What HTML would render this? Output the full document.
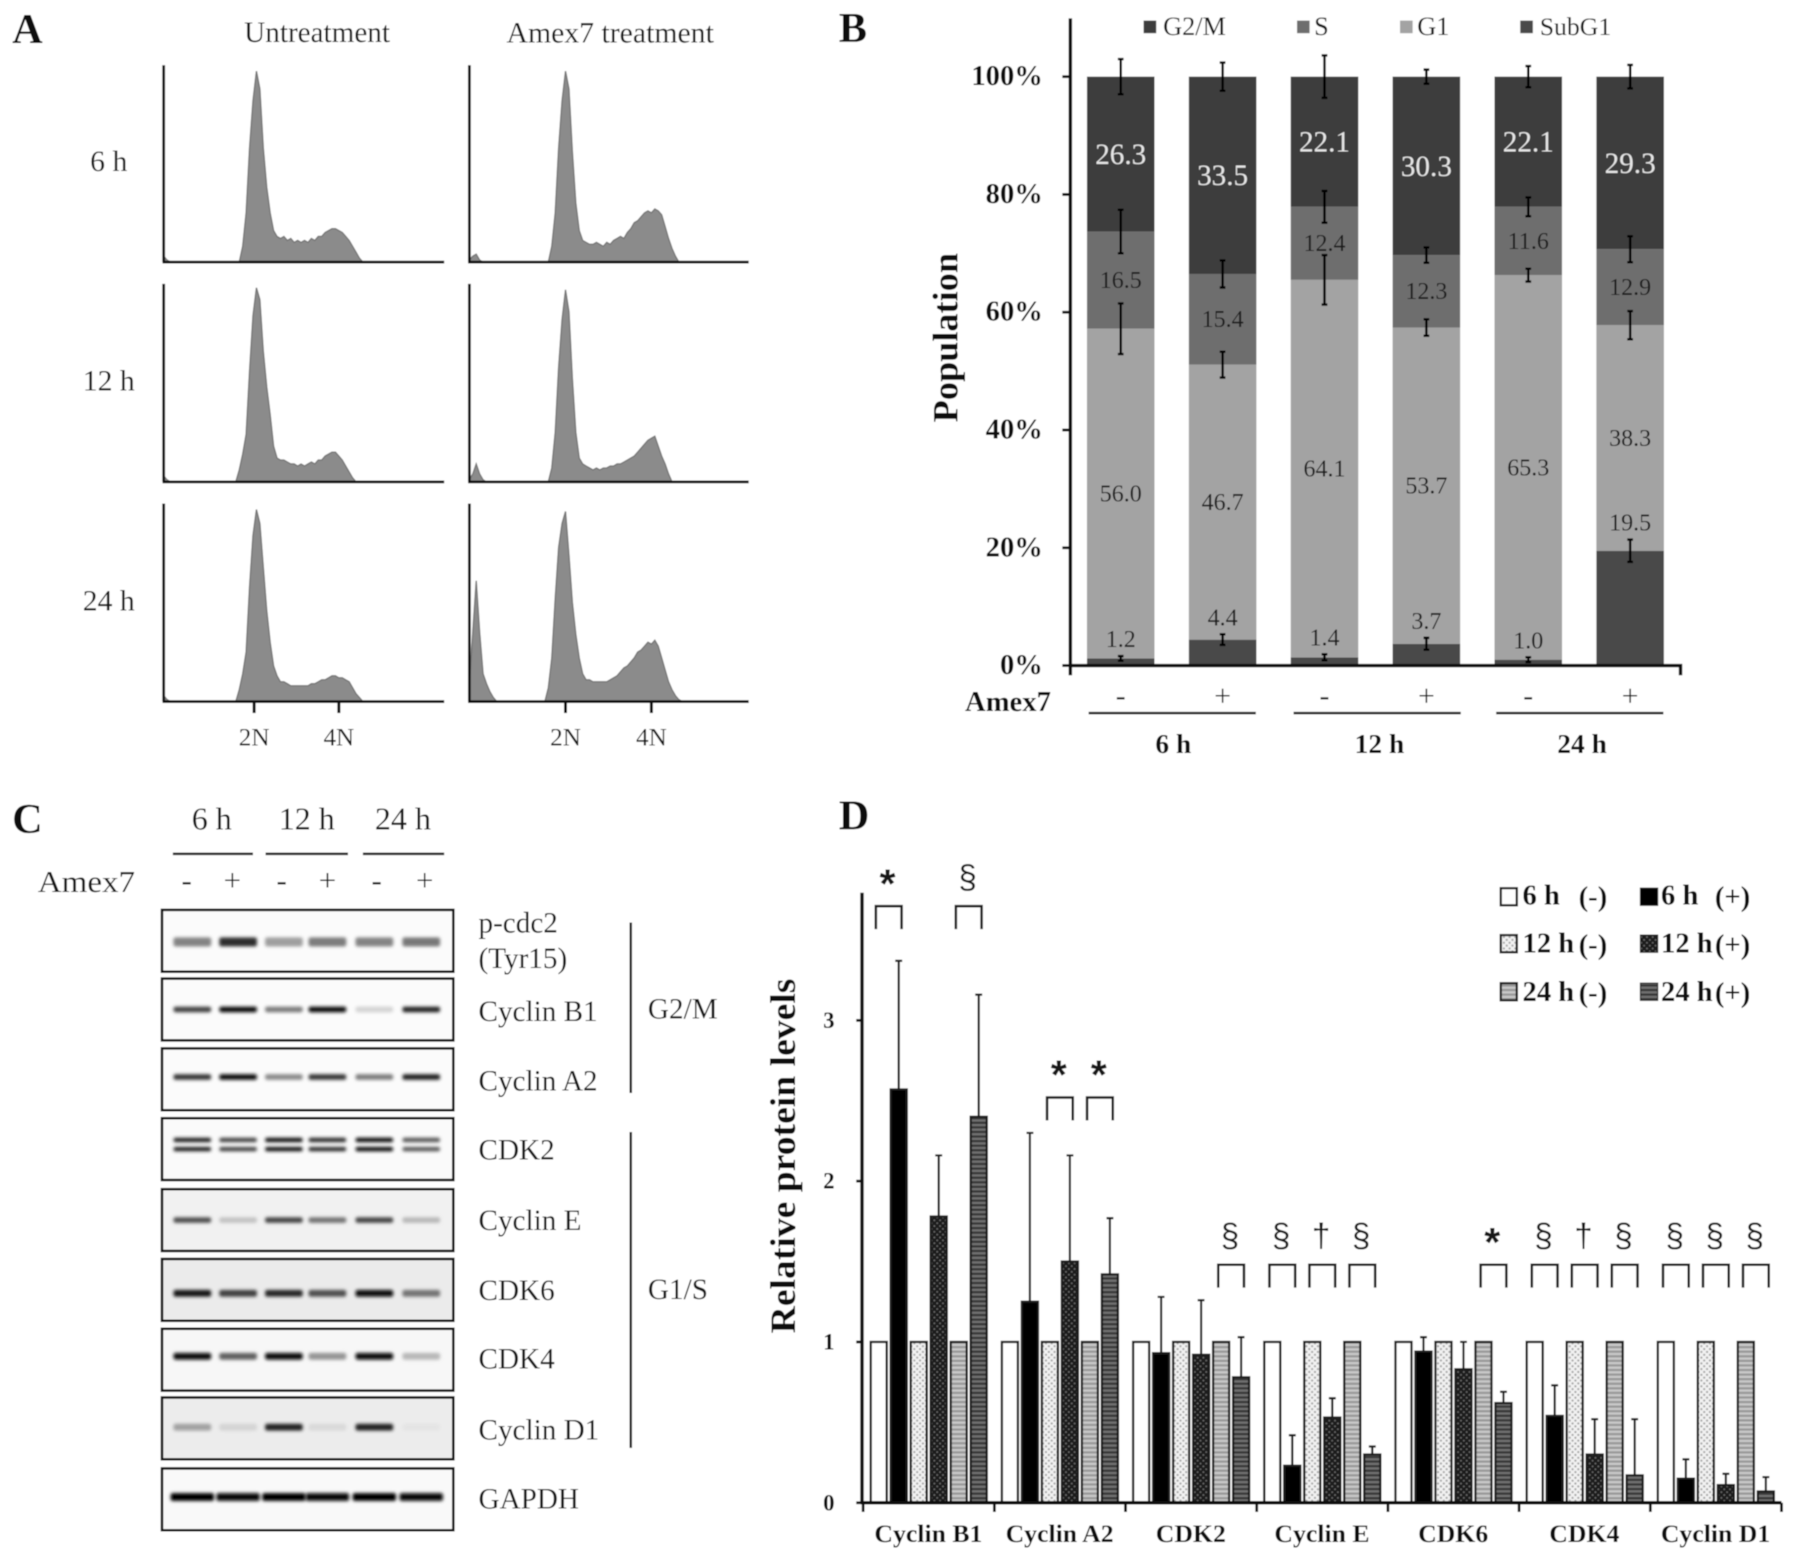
<!DOCTYPE html>
<html lang="en">
<head>
<meta charset="utf-8">
<title>Amex7 cell cycle figure</title>
<style>
html,body{margin:0;padding:0;background:#fff;width:1795px;height:1560px;overflow:hidden}
svg{display:block}
text{font-family:"Liberation Serif",serif;dominant-baseline:central;fill:#141414}
.b{font-weight:700;fill:#0a0a0a}
.m{text-anchor:middle}
.e{text-anchor:end}
.letter{font-weight:700;font-size:37px;fill:#0a0a0a;text-anchor:middle}
</style>
</head>
<body>
<svg id="fig" xmlns="http://www.w3.org/2000/svg" width="1795" height="1560" viewBox="0 0 1568 1363" preserveAspectRatio="none">
<defs>
<filter id="soft" x="-20%" y="-60%" width="140%" height="220%"><feGaussianBlur stdDeviation="1.3"/></filter>
<filter id="softLite" x="-5%" y="-5%" width="110%" height="110%"><feGaussianBlur stdDeviation="0.45"/></filter>
<pattern id="p12minus" width="5" height="5" patternUnits="userSpaceOnUse"><rect width="5" height="5" fill="#f2f2f2"/><circle cx="1.2" cy="1.2" r="1" fill="#a8a8a8"/><circle cx="3.7" cy="3.7" r="1" fill="#a8a8a8"/></pattern>
<pattern id="p12plus" width="5" height="5" patternUnits="userSpaceOnUse"><rect width="5" height="5" fill="#1c1c1c"/><circle cx="1.2" cy="1.2" r=".8" fill="#707070"/><circle cx="3.7" cy="3.7" r=".8" fill="#707070"/></pattern>
<pattern id="p24minus" width="4" height="4" patternUnits="userSpaceOnUse"><rect width="4" height="4" fill="#c8c8c8"/><rect width="4" height="2" fill="#9a9a9a"/></pattern>
<pattern id="p24plus" width="4" height="4" patternUnits="userSpaceOnUse"><rect width="4" height="4" fill="#707070"/><rect width="4" height="2" fill="#383838"/></pattern>
</defs>

<g id="root" filter="url(#softLite)">
<rect x="0" y="0" width="1568" height="1363" fill="#fff"/>

<!-- Panel A -->
<g id="panelA">
<text x="24" y="26" class="letter">A</text>
<text x="277" y="29" class="m" font-size="25.5">Untreatment</text>
<text x="533" y="29" class="m" font-size="26">Amex7 treatment</text>
<text x="95" y="141" class="m" font-size="26">6 h</text>
<text x="95" y="333" class="m" font-size="26">12 h</text>
<text x="95" y="525" class="m" font-size="26">24 h</text>
<text x="222" y="645" class="m" font-size="22">2N</text>
<text x="296" y="645" class="m" font-size="22">4N</text>
<text x="494" y="645" class="m" font-size="22">2N</text>
<text x="569" y="645" class="m" font-size="22">4N</text>
<line x1="222" y1="613" x2="222" y2="623" stroke="#111" stroke-width="2.6"/>
<line x1="296" y1="613" x2="296" y2="623" stroke="#111" stroke-width="2.6"/>
<line x1="494" y1="613" x2="494" y2="623" stroke="#111" stroke-width="2.6"/>
<line x1="569" y1="613" x2="569" y2="623" stroke="#111" stroke-width="2.6"/>
</g>

<!-- Panel B -->
<g id="panelB">
<text x="745" y="25" class="letter">B</text>
<text transform="translate(826,295) rotate(-90)" class="b m" font-size="31" textLength="148" lengthAdjust="spacingAndGlyphs">Population</text>
<text x="843" y="614" class="b" font-size="25" textLength="75" lengthAdjust="spacingAndGlyphs">Amex7</text>
<line x1="951" y1="623" x2="1097" y2="623" stroke="#111" stroke-width="2"/>
<line x1="1130" y1="623" x2="1276" y2="623" stroke="#111" stroke-width="2"/>
<line x1="1307" y1="623" x2="1453" y2="623" stroke="#111" stroke-width="2"/>
<text x="1025" y="650" class="b m" font-size="24">6 h</text>
<text x="1205" y="650" class="b m" font-size="24">12 h</text>
<text x="1382" y="650" class="b m" font-size="24">24 h</text>
<rect x="999" y="18" width="11" height="11" fill="#3c3c3c"/>
<text x="1016" y="23" font-size="23">G2/M</text>
<rect x="1133" y="18" width="11" height="11" fill="#6e6e6e"/>
<text x="1148" y="23" font-size="23">S</text>
<rect x="1223" y="18" width="11" height="11" fill="#a3a3a3"/>
<text x="1238" y="23" font-size="23">G1</text>
<rect x="1328" y="18" width="11" height="11" fill="#4a4a4a"/>
<text x="1345" y="23" font-size="22.5">SubG1</text>
</g>

<!-- Panel C -->
<g id="panelC">
<text x="24" y="716" class="letter">C</text>
<text x="185" y="715" class="m" font-size="28">6 h</text>
<text x="268" y="715" class="m" font-size="28">12 h</text>
<text x="352" y="715" class="m" font-size="28">24 h</text>
<line x1="151" y1="746" x2="221" y2="746" stroke="#222" stroke-width="2.2"/>
<line x1="232" y1="746" x2="304" y2="746" stroke="#222" stroke-width="2.2"/>
<line x1="317" y1="746" x2="388" y2="746" stroke="#222" stroke-width="2.2"/>
<text x="33" y="770" font-size="27" textLength="85" lengthAdjust="spacingAndGlyphs">Amex7</text>
<text x="418" y="807" font-size="25.5">p-cdc2</text>
<text x="418" y="838" font-size="25.5">(Tyr15)</text>
<text x="418" y="884" font-size="25.5">Cyclin B1</text>
<text x="418" y="945" font-size="25.5">Cyclin A2</text>
<text x="418" y="1005" font-size="25.5">CDK2</text>
<text x="418" y="1067" font-size="25.5">Cyclin E</text>
<text x="418" y="1128" font-size="25.5">CDK6</text>
<text x="418" y="1188" font-size="25.5">CDK4</text>
<text x="418" y="1250" font-size="25.5">Cyclin D1</text>
<text x="418" y="1310" font-size="25.5">GAPDH</text>
<line x1="551" y1="806" x2="551" y2="955" stroke="#222" stroke-width="2.2"/>
<line x1="551" y1="989" x2="551" y2="1265" stroke="#222" stroke-width="2.2"/>
<text x="566" y="882" font-size="25.5">G2/M</text>
<text x="566" y="1127" font-size="25.5">G1/S</text>
</g>

<!-- Panel D -->
<g id="panelD">
<text x="746" y="713" class="letter">D</text>
<text transform="translate(684,1010) rotate(-90)" class="b m" font-size="31" textLength="310" lengthAdjust="spacingAndGlyphs">Relative protein levels</text>
<rect x="1311" y="776" width="14" height="15" fill="#fff" stroke="#222" stroke-width="2"/>
<text x="1330" y="783" class="b" font-size="25">6 h</text>
<text x="1379" y="784" class="b" font-size="25">(-)</text>
<rect x="1433" y="776" width="15" height="15" fill="#000" stroke="#222" stroke-width="1"/>
<text x="1451" y="783" class="b" font-size="25">6 h</text>
<text x="1498" y="784" class="b" font-size="25">(+)</text>
<rect x="1311" y="817" width="14" height="15" fill="url(#p12minus)" stroke="#222" stroke-width="2"/>
<text x="1330" y="825" class="b" font-size="25">12 h</text>
<text x="1379" y="826" class="b" font-size="25">(-)</text>
<rect x="1433" y="817" width="15" height="15" fill="url(#p12plus)" stroke="#222" stroke-width="1"/>
<text x="1451" y="825" class="b" font-size="25">12 h</text>
<text x="1498" y="826" class="b" font-size="25">(+)</text>
<rect x="1311" y="859" width="14" height="15" fill="url(#p24minus)" stroke="#222" stroke-width="2"/>
<text x="1330" y="867" class="b" font-size="25">24 h</text>
<text x="1379" y="868" class="b" font-size="25">(-)</text>
<rect x="1433" y="859" width="15" height="15" fill="url(#p24plus)" stroke="#222" stroke-width="1"/>
<text x="1451" y="867" class="b" font-size="25">24 h</text>
<text x="1498" y="868" class="b" font-size="25">(+)</text>
</g>
</g>
</svg>

<script>
/* ---------- Panel A data: flow-cytometry histograms (percent of panel height per channel) ---------- */
var histU6 = [
 3,1,0,0,0,0,0,0,0,0,
 0,0,0,0,0,0,0,0,0,0,
 0,0,0,8,25,58,82,97,88,58,
 38,25,16,13,12,13,11,12,10,11,
 10,11,10,12,11,13,13,15,16,17,
 17,16,15,13,11,8,5,2,0];
var histU12 = [
 3,1,0,0,0,0,0,0,0,0,
 0,0,0,0,0,0,0,0,0,0,
 0,0,6,14,24,56,84,98,92,66,
 48,34,18,12,11,11,10,9,9,8,
 9,8,9,10,9,11,11,13,14,15,
 15,13,11,8,5,2,0];
var histU24 = [
 3,1,0,0,0,0,0,0,0,0,
 0,0,0,0,0,0,0,0,0,0,
 0,0,6,14,25,58,84,97,90,68,
 46,30,18,13,10,10,9,8,8,8,
 8,8,8,9,9,10,11,11,12,13,
 13,12,12,11,10,7,4,2,0];
var histT6 = [
 1,3,4,1,0,0,0,0,0,0,
 0,0,0,0,0,0,0,0,0,0,
 0,0,0,0,8,25,58,82,97,88,
 56,30,16,11,10,9,9,10,9,8,
 10,9,11,12,13,12,15,17,20,21,
 23,25,26,25,27,26,24,18,12,7,
 3,0];
var histT12 = [
 1,4,9,4,1,0,0,0,0,0,
 0,0,0,0,0,0,0,0,0,0,
 0,0,0,0,7,25,58,82,97,86,
 52,25,12,9,8,7,6,7,6,7,
 7,8,8,9,9,10,11,12,13,15,
 17,19,21,22,23,18,13,9,4,0];
var histT24 = [
 8,35,61,35,14,9,5,2,0,0,
 0,0,0,0,0,0,0,0,0,0,
 0,0,0,7,22,52,78,90,96,74,
 50,34,22,14,11,11,10,10,10,10,
 10,11,12,13,15,17,18,20,22,25,
 26,28,30,29,31,28,22,16,10,6,
 3,1,0];

/* ---------- Panel B data ---------- */
var stackCategories = ['6 h -','6 h +','12 h -','12 h +','24 h -','24 h +'];
var treatmentSigns = ['-','+','-','+','-','+'];
var subG1Values = [1.2,4.4,1.4,3.7,1.0,19.5];
var g1Values = [56.0,46.7,64.1,53.7,65.3,38.3];
var sValues = [16.5,15.4,12.4,12.3,11.6,12.9];
var g2mValues = [26.3,33.5,22.1,30.3,22.1,29.3];
var subG1Errors = [0.4,0.9,0.5,1.0,0.4,1.9];
var g1Errors = [4.3,2.2,4.2,1.4,1.1,2.4];
var sErrors = [3.7,2.3,2.7,1.3,1.6,2.2];
var g2mErrors = [3.0,2.4,3.6,1.2,1.8,2.0];
var percentTicks = [0,20,40,60,80,100];

/* ---------- Panel C data: band intensity per lane ---------- */
var blotProteins = ['p-cdc2','cyclin-b1','cyclin-a2','cdk2','cyclin-e','cdk6','cdk4','cyclin-d1','gapdh'];
var blotLaneSigns = ['-','+','-','+','-','+'];
var intensityPCdc2 = [0.45,0.82,0.33,0.48,0.45,0.5];
var intensityCyclinB1 = [0.72,0.96,0.48,0.96,0.1,0.85];
var intensityCyclinA2 = [0.78,0.95,0.42,0.78,0.48,0.88];
var intensityCdk2 = [0.85,0.7,0.92,0.8,0.95,0.62];
var intensityCyclinE = [0.68,0.18,0.72,0.52,0.72,0.22];
var intensityCdk6 = [0.92,0.75,0.85,0.68,0.97,0.52];
var intensityCdk4 = [0.95,0.6,0.95,0.38,0.98,0.22];
var intensityCyclinD1 = [0.32,0.1,0.88,0.08,0.88,0.03];
var intensityGapdh = [1,0.98,1,0.98,1,0.98];

/* ---------- Panel D data ---------- */
var proteinCategories = ['Cyclin B1','Cyclin A2','CDK2','Cyclin E','CDK6','CDK4','Cyclin D1'];
var seriesNames = ['6h-minus','6h-plus','12h-minus','12h-plus','24h-minus','24h-plus'];
var controlLevels = [1,1,1,1,1,1,1];
var levels6hPlus = [2.57,1.25,0.93,0.23,0.94,0.54,0.15];
var levels12hPlus = [1.78,1.50,0.92,0.53,0.83,0.30,0.11];
var levels24hPlus = [2.40,1.42,0.78,0.30,0.62,0.17,0.07];
var errTop6hPlus = [3.37,2.30,1.28,0.42,1.03,0.73,0.27];
var errTop12hPlus = [2.16,2.16,1.26,0.65,1.00,0.52,0.18];
var errTop24hPlus = [3.16,1.77,1.03,0.35,0.69,0.52,0.16];
var levelTicks = [0,1,2,3];
var sigGroups = [0,0,1,1,2,3,3,3,4,5,5,5,6,6,6];
var sigFirstBars = [0,4,2,4,4,0,2,4,4,0,2,4,0,2,4];
var sigSymbols = ['*','§','*','*','§','§','†','§','*','§','†','§','§','§','§'];
var sigLevels = [3.71,3.71,2.52,2.52,1.48,1.48,1.48,1.48,1.48,1.48,1.48,1.48,1.48,1.48,1.48];

var NS = 'http://www.w3.org/2000/svg';
function make(parent, tag, attrs, txt) {
  var n = document.createElementNS(NS, tag);
  for (var k in attrs) n.setAttribute(k, attrs[k]);
  if (txt !== undefined) n.textContent = txt;
  parent.appendChild(n);
  return n;
}
var el;

/* ========== Panel A ========== */
var gA = document.getElementById('panelA');
var histPanels = [histU6, histT6, histU12, histT12, histU24, histT24];
var histPanelNames = ['untreated-6h','treated-6h','untreated-12h','treated-12h','untreated-24h','treated-24h'];
var histLefts = [143,410];
var histRights = [388,654];
var histBases = [229,421,613];
var histTops = [57,248,440];
function xHist(col, ch) { return histLefts[col] + ch * 3; }
function yHist(row, v) { return histBases[row] - v / 100 * (histBases[row] - histTops[row]); }
histPanels.forEach(function (vals, idx) {
  var col = idx % 2, row = Math.floor(idx / 2);
  var d = 'M' + xHist(col, 0) + ' ' + histBases[row];
  vals.forEach(function (v, ch) { d += 'L' + xHist(col, ch) + ' ' + yHist(row, v).toFixed(1); });
  d += 'L' + xHist(col, vals.length - 1) + ' ' + histBases[row] + 'Z';
  el = make(gA, 'path', {d: d, fill: '#8b8b8b', stroke: '#777', 'stroke-width': 1.2});
  
  
  el = make(gA, 'line', {x1: histLefts[col], y1: histTops[row], x2: histLefts[col], y2: histBases[row], stroke: '#111', 'stroke-width': 2.4});
  
  
  el = make(gA, 'line', {x1: histLefts[col] - 1, y1: histBases[row], x2: histRights[col], y2: histBases[row], stroke: '#111', 'stroke-width': 2.4});
  
  
});

/* ========== Panel B ========== */
var gB = document.getElementById('panelB');
function xB(i) { return 979 + i * 89; }
function yB(v) { return 581.5 - v * 5.145; }
var stackSeries = [
  {name: 'subg1', vals: subG1Values, errs: subG1Errors, fill: '#4a4a4a'},
  {name: 'g1', vals: g1Values, errs: g1Errors, fill: '#a3a3a3'},
  {name: 's', vals: sValues, errs: sErrors, fill: '#6e6e6e'},
  {name: 'g2m', vals: g2mValues, errs: g2mErrors, fill: '#3c3c3c'}
];
var barW = 59;
stackCategories.forEach(function (cat, i) {
  var cum = 0;
  var tot = subG1Values[i] + g1Values[i] + sValues[i] + g2mValues[i];
  var catKey = 'bar-' + cat.replace(/ /g, '').replace('+', 'plus').replace('-', 'minus');
  stackSeries.forEach(function (s) {
    var v0 = cum / tot * 100, v1 = (cum + s.vals[i]) / tot * 100;
    el = make(gB, 'rect', {x: xB(i) - barW / 2, y: yB(v1), width: barW, height: yB(v0) - yB(v1), fill: s.fill});
    
    
    cum += s.vals[i];
  });
  cum = 0;
  stackSeries.forEach(function (s) {
    var v0 = cum / tot * 100, v1 = (cum + s.vals[i]) / tot * 100;
    var labelY = s.name === 'subg1' ? yB(v1 + s.errs[i]) - 14 : (yB(v0) + yB(v1)) / 2 + 0.8;
    var big = s.name === 'g2m';
    el = make(gB, 'text', {x: xB(i), y: labelY, 'font-size': big ? 25.5 : 21, 'text-anchor': 'middle', style: 'fill:' + (big ? '#e6e6e6' : '#1c1c1c')}, s.vals[i].toFixed(1));
    
    
    var eTop = yB(v1 + s.errs[i]), eBot = yB(v1 - s.errs[i]);
    el = make(gB, 'path', {d: 'M' + xB(i) + ' ' + eTop + 'V' + eBot + 'M' + (xB(i) - 2.5) + ' ' + eTop + 'h5M' + (xB(i) - 2.5) + ' ' + eBot + 'h5', stroke: '#000', 'stroke-width': 2.1, fill: 'none'});
    
    
    cum += s.vals[i];
  });
  el = make(gB, 'text', {x: xB(i), y: 608, 'font-size': 26, 'text-anchor': 'middle'}, treatmentSigns[i]);
  
  
});
percentTicks.forEach(function (t) {
  el = make(gB, 'text', {x: 911, y: yB(t), 'font-size': 25, 'text-anchor': 'end', 'font-weight': 700, style: 'fill:#0a0a0a'}, t + '%');
  
  
  el = make(gB, 'line', {x1: 928, y1: yB(t), x2: 935, y2: yB(t), stroke: '#111', 'stroke-width': 2.4});
  
  
});
el = make(gB, 'line', {x1: 935, y1: 16, x2: 935, y2: 590, stroke: '#111', 'stroke-width': 3});


el = make(gB, 'path', {d: 'M935 581.5H1468V590', stroke: '#111', 'stroke-width': 3, fill: 'none'});



/* ========== Panel C ========== */
var gC = document.getElementById('panelC');
var blotRows = [intensityPCdc2, intensityCyclinB1, intensityCyclinA2, intensityCdk2, intensityCyclinE, intensityCdk6, intensityCdk4, intensityCyclinD1, intensityGapdh];
var blotTops = [795,855,916,977,1039,1100,1161,1221,1283];
var blotBgs = ['#fbfbfb','#fbfbfb','#fbfbfb','#fafafa','#f1f1f1','#ebebeb','#f7f7f7','#ececec','#f9f9f9'];
var bandOffsets = [28,27,25,24,27,30,24,26,25];
var bandHeights = [8,5,5,4,5,6,6,6,7];
var laneCenters = [168,208,248,286,327,368];
blotRows.forEach(function (row, r) {
  var top = blotTops[r], name = blotProteins[r];
  el = make(gC, 'rect', {x: 141.5, y: top, width: 254.5, height: 54, fill: blotBgs[r]});
  
  
  row.forEach(function (v, lane) {
    var dark = Math.round(235 - v * 230);
    var col = 'rgb(' + dark + ',' + dark + ',' + dark + ')';
    var w = name === 'gapdh' ? 38 : 33;
    var y = top + bandOffsets[r];
    if (name === 'cdk2') {
      el = make(gC, 'rect', {x: laneCenters[lane] - w / 2, y: y - 7, width: w, height: 4, rx: 2, fill: col, filter: 'url(#soft)'});
      
      
      el = make(gC, 'rect', {x: laneCenters[lane] - w / 2, y: y + 1, width: w, height: 4, rx: 2, fill: col, filter: 'url(#soft)'});
      
      
    } else {
      el = make(gC, 'rect', {x: laneCenters[lane] - w / 2, y: y - bandHeights[r] / 2, width: w, height: bandHeights[r], rx: 2, fill: col, filter: 'url(#soft)'});
      
      
    }
  });
  el = make(gC, 'rect', {x: 141.5, y: top, width: 254.5, height: 54, fill: 'none', stroke: '#111', 'stroke-width': 2.2});
  
  
});
var signCenters = [163,203,246,286,329,371];
blotLaneSigns.forEach(function (s, i) {
  el = make(gC, 'text', {x: signCenters[i], y: 769, 'font-size': 27, 'text-anchor': 'middle'}, s);
  
  
});

/* ========== Panel D ========== */
var gD = document.getElementById('panelD');
function xGroup(g) { return 754 + g * 114.6; }
function xBar(g, b) { return xGroup(g) + 13.6 + b * 17.47; }
function yD(v) { return 1313 - v * 140.5; }
var groupedSeries = [
  {vals: controlLevels, err: null, fill: '#ffffff'},
  {vals: levels6hPlus, err: errTop6hPlus, fill: '#000000'},
  {vals: controlLevels, err: null, fill: 'url(#p12minus)'},
  {vals: levels12hPlus, err: errTop12hPlus, fill: 'url(#p12plus)'},
  {vals: controlLevels, err: null, fill: 'url(#p24minus)'},
  {vals: levels24hPlus, err: errTop24hPlus, fill: 'url(#p24plus)'}
];
var wD = 14;
proteinCategories.forEach(function (cat, g) {
  var key = cat.toLowerCase().replace(/ /g, '-');
  groupedSeries.forEach(function (s, b) {
    if (s.err) {
      var xc = xBar(g, b), yt = yD(s.err[g]);
      el = make(gD, 'path', {d: 'M' + xc + ' ' + yD(s.vals[g]) + 'V' + yt + 'M' + (xc - 3) + ' ' + yt + 'h6', stroke: '#1a1a1a', 'stroke-width': 1.9, fill: 'none'});
      
      
    }
    el = make(gD, 'rect', {x: xBar(g, b) - wD / 2, y: yD(s.vals[g]), width: wD, height: yD(0) - yD(s.vals[g]), fill: s.fill, stroke: '#1a1a1a', 'stroke-width': 2});
    
    
  });
  el = make(gD, 'text', {x: xGroup(g) + 57, y: 1340, 'font-size': 22.5, 'text-anchor': 'middle', 'font-weight': 700, style: 'fill:#0a0a0a'}, cat);
  
  
  el = make(gD, 'line', {x1: xGroup(g), y1: 1313, x2: xGroup(g), y2: 1321, stroke: '#111', 'stroke-width': 2.4});
  
  
});
el = make(gD, 'line', {x1: xGroup(proteinCategories.length), y1: 1313, x2: xGroup(proteinCategories.length), y2: 1321, stroke: '#111', 'stroke-width': 2.4});


levelTicks.forEach(function (t) {
  el = make(gD, 'text', {x: 724, y: yD(t), 'font-size': 20, 'text-anchor': 'middle', 'font-weight': 700, style: 'fill:#0a0a0a'}, t);
  
  
  el = make(gD, 'line', {x1: 748, y1: yD(t), x2: 753, y2: yD(t), stroke: '#111', 'stroke-width': 2.4});
  
  
});
el = make(gD, 'line', {x1: 753, y1: 780, x2: 753, y2: 1314, stroke: '#111', 'stroke-width': 3});


el = make(gD, 'line', {x1: 752, y1: 1313, x2: xGroup(proteinCategories.length), y2: 1313, stroke: '#111', 'stroke-width': 3});


sigSymbols.forEach(function (sym, i) {
  var x0 = xBar(sigGroups[i], sigFirstBars[i]) - 2.5;
  var x1 = xBar(sigGroups[i], sigFirstBars[i] + 1) + 2.5;
  var yT = yD(sigLevels[i]);
  el = make(gD, 'path', {d: 'M' + x0 + ' ' + (yT + 20) + 'V' + yT + 'H' + x1 + 'V' + (yT + 20), stroke: '#1a1a1a', 'stroke-width': 2.2, fill: 'none'});
  
  
  el = make(gD, 'text', {x: (x0 + x1) / 2 - 1, y: yT - 25 + (sym === '*' ? 5 : 0), 'font-size': sym === '*' ? 36 : 29, 'text-anchor': 'middle', 'font-weight': sym === '*' ? 700 : 400, style: 'font-family:"Liberation Sans",sans-serif'}, sym);
  
  
});
</script>
</body>
</html>
